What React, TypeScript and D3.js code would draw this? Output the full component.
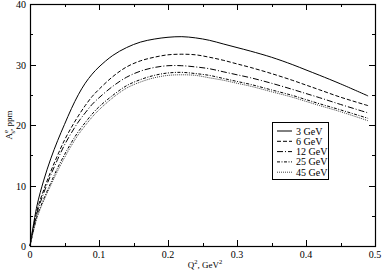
import { useEffect, useRef } from 'react';
import * as d3 from 'd3';

const q2 = [0, 0.01, 0.02, 0.03, 0.04, 0.05, 0.06, 0.07, 0.08, 0.09, 0.1, 0.12, 0.14, 0.16, 0.18, 0.2, 0.22, 0.24, 0.26, 0.28, 0.3, 0.32, 0.35, 0.38, 0.4, 0.42, 0.45, 0.49];

const gev3 = [0, 6.6, 10.9, 14.4, 17.4, 20.1, 22.7, 25.0, 26.9, 28.4, 29.6, 31.5, 32.8, 33.7, 34.2, 34.5, 34.6, 34.4, 34.0, 33.4, 32.8, 32.2, 31.2, 30.0, 29.1, 28.2, 26.8, 24.8];
const gev6 = [0, 5.8, 9.3, 12.3, 15.0, 17.5, 19.6, 21.5, 23.2, 24.7, 25.9, 28.0, 29.6, 30.6, 31.2, 31.6, 31.7, 31.6, 31.2, 30.7, 30.1, 29.5, 28.5, 27.4, 26.6, 25.8, 24.6, 23.2];
const gev12 = [0, 5.4, 8.8, 11.7, 14.3, 16.7, 18.7, 20.5, 22.0, 23.4, 24.5, 26.4, 27.9, 28.9, 29.5, 29.8, 29.8, 29.6, 29.3, 28.8, 28.3, 27.8, 26.9, 25.9, 25.2, 24.5, 23.4, 22.0];
const gev25 = [0, 4.8, 7.8, 10.4, 12.9, 15.1, 17.1, 18.9, 20.4, 21.8, 23.0, 24.9, 26.5, 27.5, 28.2, 28.6, 28.7, 28.5, 28.2, 27.7, 27.2, 26.7, 25.8, 24.9, 24.2, 23.5, 22.5, 21.1];
const gev45 = [0, 4.6, 7.5, 10.0, 12.4, 14.6, 16.6, 18.4, 19.9, 21.3, 22.5, 24.5, 26.1, 27.1, 27.8, 28.2, 28.3, 28.2, 27.8, 27.4, 26.9, 26.4, 25.5, 24.6, 23.9, 23.2, 22.2, 20.7];

const seriesNames = ['3 GeV', '6 GeV', '12 GeV', '25 GeV', '45 GeV'];
const seriesValues = [gev3, gev6, gev12, gev25, gev45];
const dashes = ['none', '4,2', '6,2,1,2', '3,1.5,1,1.5', '1,1'];
const strokes = ['#000', '#000', '#000', '#000', '#444'];

const xTicks = [0, 0.1, 0.2, 0.3, 0.4, 0.5];
const yTicks = [0, 10, 20, 30, 40];

export default function App() {
    const svgRef = useRef(null);

    useEffect(() => {
        const W = 382, H = 273;
        const m = { l: 30, r: 7, t: 4, b: 27 };
        const svg = d3.select(svgRef.current);
        svg.selectAll('*').remove();

        const x = d3.scaleLinear().domain([0, 0.5]).range([m.l, W - m.r]);
        const y = d3.scaleLinear().domain([0, 40]).range([H - m.b, m.t]);
        const font = '"Liberation Serif", "DejaVu Serif", serif';

        svg.append('rect').attr('width', W).attr('height', H).attr('fill', '#fff');

        // ticks on all four sides, pointing inwards
        const g = svg.append('g').attr('stroke', '#000').attr('stroke-width', 1);
        d3.range(0, 0.5001, 0.05).forEach((v, i) => {
            const len = i % 2 === 0 ? 6 : 3;
            const px = Math.round(x(v)) + 0.5;
            g.append('line').attr('x1', px).attr('x2', px).attr('y1', y(0)).attr('y2', y(0) - len);
            g.append('line').attr('x1', px).attr('x2', px).attr('y1', y(40)).attr('y2', y(40) + len);
        });
        d3.range(0, 40.01, 5).forEach((v, i) => {
            const len = i % 2 === 0 ? 6 : 3;
            const py = Math.round(y(v)) + 0.5;
            g.append('line').attr('y1', py).attr('y2', py).attr('x1', x(0)).attr('x2', x(0) + len);
            g.append('line').attr('y1', py).attr('y2', py).attr('x1', x(0.5)).attr('x2', x(0.5) - len);
        });

        // curves
        const line = d3.line<number>()
            .x((d, i) => x(q2[i]))
            .y(d => y(d))
            .curve(d3.curveCatmullRom.alpha(0.5));

        seriesValues.forEach((vals, k) => {
            svg.append('path')
                .attr('d', line(vals))
                .attr('fill', 'none')
                .attr('stroke', strokes[k])
                .attr('stroke-width', 1)
                .attr('stroke-dasharray', dashes[k]);
        });

        svg.append('rect')
            .attr('x', x(0) + 0.5).attr('y', y(40) + 0.5)
            .attr('width', x(0.5) - x(0)).attr('height', y(0) - y(40))
            .attr('fill', 'none').attr('stroke', '#000').attr('stroke-width', 1.2);

        // tick labels
        svg.append('g').selectAll('text').data(xTicks).enter().append('text')
            .attr('x', d => x(d)).attr('y', y(0) + 12)
            .attr('text-anchor', 'middle')
            .attr('font-family', font).attr('font-size', 10)
            .text(d => d === 0 ? '0' : String(d));

        svg.append('g').selectAll('text').data(yTicks).enter().append('text')
            .attr('x', x(0) - 4).attr('y', d => y(d) + 4)
            .attr('text-anchor', 'end')
            .attr('font-family', font).attr('font-size', 10)
            .text(d => String(d));

        // axis titles
        const xt = svg.append('text')
            .attr('x', 205).attr('y', 268)
            .attr('text-anchor', 'middle')
            .attr('font-family', font).attr('font-size', 9);
        xt.append('tspan').text('Q');
        xt.append('tspan').attr('dy', -4).attr('font-size', 6.5).text('2');
        xt.append('tspan').attr('dy', 4).text(', GeV');
        xt.append('tspan').attr('dy', -4).attr('font-size', 6.5).text('2');

        const yt = svg.append('text')
            .attr('transform', 'translate(12,125) rotate(-90)')
            .attr('text-anchor', 'middle')
            .attr('font-family', font).attr('font-size', 9);
        yt.append('tspan').text('A');
        yt.append('tspan').attr('dy', -4).attr('font-size', 6.5).text('e');
        yt.append('tspan').attr('dx', -3.5).attr('dy', 7).attr('font-size', 6.5).text('s');
        yt.append('tspan').attr('dy', -3).text(', ppm');

        // legend
        const lg = svg.append('g').attr('transform', 'translate(272,122)');
        lg.append('rect').attr('x', 0.5).attr('y', 0.5).attr('width', 56).attr('height', 57)
            .attr('fill', '#fff').attr('stroke', '#000').attr('stroke-width', 1);
        seriesNames.forEach((name, k) => {
            const yy = 9 + k * 10.3;
            lg.append('line').attr('x1', 5).attr('x2', 20).attr('y1', yy).attr('y2', yy)
                .attr('stroke', strokes[k]).attr('stroke-width', 1).attr('stroke-dasharray', dashes[k]);
            lg.append('text').attr('x', 24).attr('y', yy + 3.5)
                .attr('font-family', font).attr('font-size', 10)
                .text(name);
        });
    }, []);

    return (
        <div style={{ position: 'absolute', left: 0, top: 0 }}>
            <svg ref={svgRef} width={382} height={273} style={{ display: 'block' }}></svg>
        </div>
    );
}
